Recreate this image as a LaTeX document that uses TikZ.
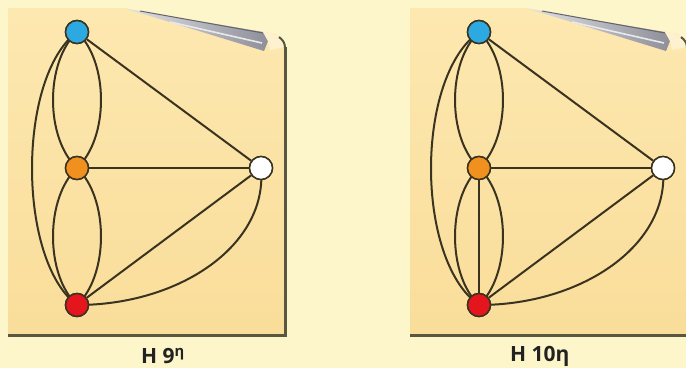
\documentclass[tikz,border=0pt]{standalone}
\usepackage{fontspec}
\setmainfont{Open Sans}
\definecolor{bg}{HTML}{FDF6CB}
\definecolor{papertop}{HTML}{FDE8B0}
\definecolor{paperbot}{HTML}{F9DD9A}
\definecolor{edgec}{HTML}{3A3320}
\definecolor{shadowc}{HTML}{58573F}
\definecolor{curlc}{HTML}{8E8F99}
\definecolor{vblue}{HTML}{2CA9E1}
\definecolor{vorange}{HTML}{F0901F}
\definecolor{vred}{HTML}{E5151D}
\definecolor{txt}{HTML}{222222}
\tikzset{
  vtx/.style={circle, draw=edgec, line width=1.5pt, minimum size=23pt, inner sep=0pt},
  edg/.style={draw=edgec, line width=2pt},
  lbl/.style={font=\bfseries\fontsize{21}{24}\selectfont, text=txt, anchor=west, inner sep=0pt},
}
\newcommand{\paperdraw}{%
  \shade[top color=papertop, bottom color=paperbot]
    (8,8) -- (124,8) -- (263,32) -- (276,34) -- (285,46) -- (285,335) -- (8,335) -- cycle;
  \draw[shadowc, line width=3pt] (285,47) -- (285,335) -- (8,335);
  \shade[left color=curlc!25!white, right color=curlc] (124,8.5) -- (263,32) -- (268,41) -- (264,51) -- (150,16) -- cycle;
  \draw[curlc!70!black, line width=1pt] (140,11) -- (263,33);
  \draw[white!80!curlc, line width=1.6pt] (170,22) -- (262,43);
  \fill[papertop!60!white] (263,32) .. controls (276,33) and (284,38) .. (285,47) -- (270,50) -- (268,41) -- cycle;
  \draw[shadowc, line width=2pt] (279,37) .. controls (283,40) and (285,43) .. (285,48);
}
\begin{document}
\begin{tikzpicture}[x=1pt,y=-1pt]
\fill[bg] (0,0) rectangle (686,368);
\useasboundingbox (0,0) rectangle (686,368);
% ---------- papers ----------
\paperdraw
\begin{scope}[xshift=402pt]
\paperdraw
\end{scope}
% ---------- vertices ----------
\node[vtx, fill=vblue] (a1) at (77,32) {};
\node[vtx, fill=vorange] (a2) at (77,168) {};
\node[vtx, fill=white] (a3) at (261,168) {};
\node[vtx, fill=vred] (a4) at (77,305) {};
\node[vtx, fill=vblue] (b1) at (479,32) {};
\node[vtx, fill=vorange] (b2) at (479,168) {};
\node[vtx, fill=white] (b3) at (663,168) {};
\node[vtx, fill=vred] (b4) at (479,305) {};
% edges left
\path[edg] (a1.center) .. controls (45,62) and (45,138) .. (a2.center);
\path[edg] (a1.center) .. controls (109,62) and (109,138) .. (a2.center);
\path[edg] (a2.center) .. controls (45,198) and (45,275) .. (a4.center);
\path[edg] (a2.center) .. controls (109,198) and (109,275) .. (a4.center);
\path[edg] (a1.center) .. controls (17,77) and (17,260) .. (a4.center);
\path[edg] (a1) -- (a3);
\path[edg] (a2) -- (a3);
\path[edg] (a4) -- (a3);
\path[edg] (a4.center) .. controls (180,305) and (268,245) .. (a3.center);
% edges right
\path[edg] (b1.center) .. controls (447,62) and (447,138) .. (b2.center);
\path[edg] (b1.center) .. controls (511,62) and (511,138) .. (b2.center);
\path[edg] (b2.center) .. controls (447,198) and (447,275) .. (b4.center);
\path[edg] (b2.center) .. controls (511,198) and (511,275) .. (b4.center);
\path[edg] (b2) -- (b4);
\path[edg] (b1.center) .. controls (415,77) and (415,260) .. (b4.center);
\path[edg] (b1) -- (b3);
\path[edg] (b2) -- (b3);
\path[edg] (b4) -- (b3);
\path[edg] (b4.center) .. controls (582,305) and (670,245) .. (b3.center);
% redraw vertices on top of the edges
\foreach \n/\c in {a1/vblue,a2/vorange,a3/white,a4/vred,b1/vblue,b2/vorange,b3/white,b4/vred}{
  \node[vtx, fill=\c] at (\n) {};
}
% labels
\node[lbl] (l1) at (141,356) {H 9\textsuperscript{η}};
\node[lbl] (l2) at (510,356) {H 10η};
\end{tikzpicture}
\end{document}
